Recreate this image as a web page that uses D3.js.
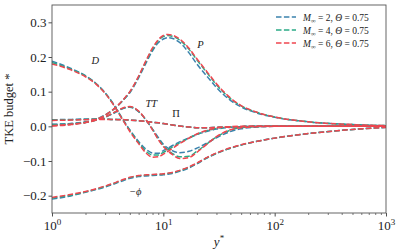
<!DOCTYPE html>
<html>
<head>
<meta charset="utf-8">
<script src="https://cdn.jsdelivr.net/npm/d3@7"></script>
<style>
  body { margin: 0; background: #fff; }
  svg text { font-family: "Liberation Serif", "DejaVu Serif", serif; fill: #222; }
</style>
</head>
<body>
<svg id="chart" width="399" height="251"></svg>
<script>
// wall distance grid shared by all curves
const yStar = [1, 1.5, 2, 2.5, 3, 3.5, 4, 4.5, 5, 6, 7, 8, 9, 10, 11, 12, 14, 17, 20, 25, 30, 40, 50, 70, 100, 200, 500, 1000];

// production P
const prodM2 = [0.005, 0.008, 0.013, 0.021, 0.033, 0.047, 0.063, 0.08, 0.097, 0.14, 0.183, 0.218, 0.241, 0.252, 0.256, 0.254, 0.242, 0.212, 0.18, 0.142, 0.112, 0.075, 0.056, 0.038, 0.026, 0.013, 0.005, 0.002];
const prodM4 = [0.003, 0.006, 0.012, 0.02, 0.032, 0.047, 0.063, 0.081, 0.099, 0.143, 0.188, 0.223, 0.247, 0.259, 0.262, 0.26, 0.249, 0.222, 0.192, 0.152, 0.12, 0.08, 0.059, 0.04, 0.027, 0.013, 0.005, 0.002];
const prodM6 = [0.001, 0.005, 0.011, 0.02, 0.032, 0.047, 0.064, 0.082, 0.1, 0.145, 0.19, 0.226, 0.25, 0.262, 0.265, 0.263, 0.252, 0.225, 0.195, 0.155, 0.123, 0.082, 0.06, 0.04, 0.027, 0.013, 0.005, 0.002];

// viscous diffusion D
const diffM2 = [0.188, 0.166, 0.146, 0.123, 0.097, 0.068, 0.038, 0.012, -0.01, -0.044, -0.066, -0.077, -0.078, -0.07, -0.063, -0.056, -0.045, -0.033, -0.024, -0.014, -0.008, -0.003, -0.001, 0, 0, 0, 0, 0];
const diffM4 = [0.184, 0.164, 0.145, 0.122, 0.096, 0.067, 0.037, 0.01, -0.012, -0.047, -0.072, -0.083, -0.083, -0.075, -0.068, -0.06, -0.048, -0.034, -0.023, -0.012, -0.006, -0.002, -0.001, 0, 0, 0, 0, 0];
const diffM6 = [0.18, 0.162, 0.143, 0.121, 0.095, 0.066, 0.036, 0.009, -0.015, -0.05, -0.077, -0.089, -0.088, -0.08, -0.072, -0.064, -0.05, -0.034, -0.022, -0.011, -0.005, -0.001, 0, 0, 0, 0, 0, 0];

// turbulent transport TT
const ttM2 = [0.006, 0.008, 0.012, 0.018, 0.026, 0.036, 0.046, 0.053, 0.055, 0.042, 0.018, -0.008, -0.032, -0.052, -0.063, -0.07, -0.076, -0.072, -0.063, -0.047, -0.033, -0.015, -0.007, -0.002, 0, 0, 0, 0];
const ttM4 = [0.004, 0.007, 0.011, 0.018, 0.027, 0.037, 0.047, 0.054, 0.056, 0.043, 0.018, -0.009, -0.036, -0.056, -0.069, -0.078, -0.088, -0.086, -0.072, -0.049, -0.031, -0.011, -0.004, -0.001, 0, 0, 0, 0];
const ttM6 = [0.002, 0.006, 0.011, 0.018, 0.027, 0.038, 0.048, 0.055, 0.057, 0.044, 0.018, -0.01, -0.038, -0.058, -0.071, -0.081, -0.093, -0.09, -0.075, -0.05, -0.03, -0.01, -0.004, -0.001, 0, 0, 0, 0];

// pressure term Pi
const piM2 = [0.019, 0.02, 0.021, 0.021, 0.021, 0.02, 0.02, 0.019, 0.018, 0.016, 0.014, 0.012, 0.01, 0.008, 0.006, 0.004, 0.001, -0.002, -0.004, -0.004, -0.003, -0.002, -0.001, 0, 0, 0, 0, 0];
const piM4 = [0.018, 0.019, 0.02, 0.021, 0.021, 0.02, 0.02, 0.019, 0.018, 0.016, 0.014, 0.012, 0.01, 0.008, 0.006, 0.004, 0.001, -0.002, -0.004, -0.004, -0.003, -0.002, -0.001, 0, 0, 0, 0, 0];
const piM6 = [0.017, 0.018, 0.019, 0.02, 0.02, 0.02, 0.019, 0.019, 0.018, 0.016, 0.014, 0.012, 0.01, 0.008, 0.006, 0.004, 0.001, -0.002, -0.004, -0.004, -0.003, -0.002, -0.001, 0, 0, 0, 0, 0];

// dissipation -phi
const phiM2 = [-0.21, -0.2, -0.19, -0.182, -0.175, -0.168, -0.161, -0.155, -0.15, -0.145, -0.143, -0.142, -0.141, -0.14, -0.138, -0.136, -0.13, -0.12, -0.108, -0.09, -0.078, -0.063, -0.054, -0.043, -0.034, -0.021, -0.009, -0.003];
const phiM4 = [-0.207, -0.198, -0.189, -0.181, -0.173, -0.166, -0.159, -0.153, -0.148, -0.143, -0.141, -0.14, -0.139, -0.138, -0.136, -0.134, -0.128, -0.118, -0.107, -0.09, -0.078, -0.063, -0.054, -0.043, -0.034, -0.021, -0.009, -0.003];
const phiM6 = [-0.205, -0.196, -0.188, -0.18, -0.172, -0.165, -0.158, -0.152, -0.147, -0.142, -0.14, -0.139, -0.138, -0.137, -0.135, -0.133, -0.127, -0.117, -0.106, -0.089, -0.077, -0.062, -0.053, -0.043, -0.034, -0.021, -0.009, -0.003];

const machs = ["2", "4", "6"];
const colors = ["#3b82ad", "#2aaa86", "#f0454f"];
const yTicks = [-0.2, -0.1, 0.0, 0.1, 0.2, 0.3];
const xTicks = [1, 10, 100, 1000];

const seriesByMach = [
    [prodM2, diffM2, ttM2, piM2, phiM2],
    [prodM4, diffM4, ttM4, piM4, phiM4],
    [prodM6, diffM6, ttM6, piM6, phiM6],
];

const margin = { left: 52, right: 13, top: 5, bottom: 38 };
const width = 399 - margin.left - margin.right;
const height = 251 - margin.top - margin.bottom;

const svg = d3.select("#chart");
const g = svg.append("g").attr("transform", "translate(" + margin.left + "," + margin.top + ")");

const x = d3.scaleLog().domain([1, 1000]).range([0, width]);
const y = d3.scaleLinear().domain([-0.25, 0.35]).range([height, 0]);

const line = d3.line()
    .x((d) => x(d[0]))
    .y((d) => y(d[1]))
    .curve(d3.curveMonotoneX);

const plot = g.append("g");
seriesByMach.forEach((terms, i) => {
    terms.forEach((vals) => {
        plot.append("path")
            .attr("d", line(yStar.map((ys, k) => [ys, vals[k]])))
            .style("fill", "none")
            .style("stroke", colors[i])
            .style("stroke-width", 1.5)
            .style("stroke-dasharray", "5.5,2.4");
    });
});

// y axis
const yAxis = g.append("g")
    .call(d3.axisLeft(y).tickValues(yTicks).tickSize(3.5).tickFormat((d) => d3.format(".1f")(d).replace("-", "\u2212")));
yAxis.select(".domain").remove();
yAxis.selectAll("line").style("stroke", "#222").style("stroke-width", 0.8);
yAxis.selectAll("text").style("font-size", "13px").attr("x", -5.5);

// x axis: majors and minors
const minor = [];
for (let e = 0; e < 3; e++) for (let m = 2; m < 10; m++) minor.push(m * Math.pow(10, e));
const xMinor = g.append("g").attr("transform", "translate(0," + height + ")")
    .call(d3.axisBottom(x).tickValues(minor).tickSize(2).tickFormat(""));
xMinor.select(".domain").remove();
xMinor.selectAll("line").style("stroke", "#222").style("stroke-width", 0.6);

const xAxis = g.append("g").attr("transform", "translate(0," + height + ")")
    .call(d3.axisBottom(x).tickValues(xTicks).tickSize(3.5).tickFormat(""));
xAxis.select(".domain").remove();
xAxis.selectAll("line").style("stroke", "#222").style("stroke-width", 0.8);
xAxis.selectAll(".tick").append("text")
    .attr("y", 17)
    .attr("text-anchor", "middle")
    .style("font-size", "13px")
    .style("fill", "#222")
    .each(function (d) {
        const t = d3.select(this);
        t.append("tspan").text("10");
        t.append("tspan").attr("dy", -5).style("font-size", "9px").text(Math.round(Math.log10(d)));
    });

// frame
g.append("rect")
    .attr("width", width).attr("height", height)
    .style("fill", "none").style("stroke", "#555").style("stroke-width", 0.9);

// axis titles
g.append("text")
    .attr("x", width / 2).attr("y", height + 33)
    .attr("text-anchor", "middle")
    .style("font-size", "13px").style("font-style", "italic")
    .text("y")
    .append("tspan").attr("dy", -5).style("font-size", "9px").style("font-style", "normal").text("*");

g.append("text")
    .attr("transform", "translate(" + (-39) + "," + (height / 2) + ") rotate(-90)")
    .attr("text-anchor", "middle")
    .style("font-size", "12.5px")
    .text("TKE budget *");

// term labels
const termLabels = [
    { t: "D", at: [2.45, 0.18] },
    { t: "P", at: [21.6, 0.225] },
    { t: "TT", at: [7.8, 0.055] },
    { t: "\u03a0", at: [13, 0.027] },
    { t: "\u2212\u03d5", at: [5.6, -0.198] },
];
g.selectAll(".term").data(termLabels).enter().append("text")
    .attr("x", (d) => x(d.at[0]))
    .attr("y", (d) => y(d.at[1]))
    .attr("text-anchor", "middle")
    .style("font-size", "10.5px")
    .style("font-style", (d) => d.t === "\u03a0" ? "normal" : "italic")
    .text((d) => d.t);

// legend
const legend = g.append("g").attr("transform", "translate(" + (width - 110) + ",12)");
machs.forEach((m, i) => {
    const row = legend.append("g").attr("transform", "translate(0," + (i * 13) + ")");
    row.append("line")
        .attr("x1", 0).attr("x2", 20)
        .style("stroke", colors[i]).style("stroke-width", 1.5).style("stroke-dasharray", "5.5,2.4");
    const tx = row.append("text").attr("x", 27).attr("y", 3.5).style("font-size", "9.5px");
    tx.append("tspan").style("font-style", "italic").text("M");
    tx.append("tspan").attr("dy", 2).style("font-size", "6.5px").text("\u221e");
    tx.append("tspan").attr("dy", -2).text(" = " + m + ", ");
    tx.append("tspan").style("font-style", "italic").text("\u0398");
    tx.append("tspan").text(" = 0.75");
});
</script>
</body>
</html>
